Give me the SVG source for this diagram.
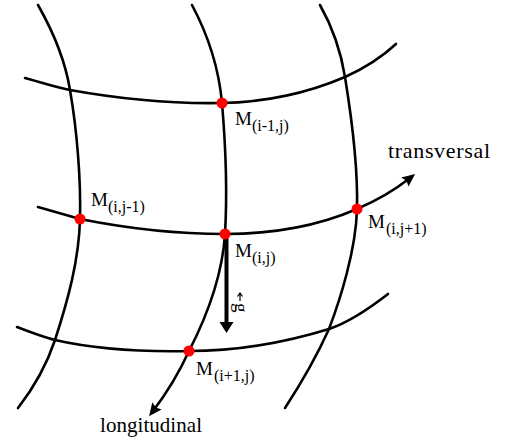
<svg xmlns="http://www.w3.org/2000/svg" width="506" height="445" viewBox="0 0 506 445">
<defs>
<style>
.ln{fill:none;stroke:#000;stroke-width:2.6;stroke-linecap:round}
.dot{fill:#ff0000}
.t{font-family:"Liberation Serif","Times New Roman",serif;fill:#000}
.m{font-size:19px}
.s{font-size:16px}
</style>
<marker id="ah" viewBox="0 0 10 10" refX="5" refY="5" markerWidth="5" markerHeight="5" orient="auto" markerUnits="strokeWidth">
<path d="M0,0.5 L10,5 L0,9.5 L1.5,5 Z" fill="#000"/>
</marker>
</defs>
<rect width="506" height="445" fill="#fff"/>
<g id="connectors">
<path class="ln" d="M25,78 C40,82 55,87 70,90 C120,99 170,104 222,103 C270,102 310,92 345,77 C365,68 382,57 396,44"/>
<path class="ln" d="M38,207 C52,211 66,215 80,219 C130,229 180,234 225,234 C275,234 320,225 357,209 C378,200 396,189 410,178" marker-end="url(#ah)"/>
<path class="ln" d="M17,327 C30,332 43,337 55,340 C90,348 140,352 189,351 C240,351 290,341 329,329 C350,322 370,308 388,294"/>
<path class="ln" d="M38,5 C55,35 66,65 70,90 C77,130 81,180 80,219 C79,260 68,300 55,340 C45,370 32,390 18,408"/>
<path class="ln" d="M192,5 C208,35 219,70 222,103 C226,150 227,200 225,234 C222,280 205,320 189,351 C178,375 166,394 153,411" marker-end="url(#ah)"/>
<path class="ln" d="M320,5 C333,28 341,52 345,77 C352,120 358,170 357,209 C356,250 340,300 329,329 C315,360 300,385 285,408"/>
<line x1="226.5" y1="236" x2="226.5" y2="324" stroke="#000" stroke-width="4"/>
<path d="M219.5,322 L233.5,322 L226.5,333 Z" fill="#000"/>
</g>
<g id="n-im1j"><circle class="dot" cx="222" cy="103" r="5.5"/><text class="t m" x="235" y="125">M</text><text class="t s" x="252" y="131">(i-1,j)</text></g>
<g id="n-ijm1"><circle class="dot" cx="80" cy="219" r="5.5"/><text class="t m" x="91" y="206">M</text><text class="t s" x="108" y="212">(i,j-1)</text></g>
<g id="n-ij"><circle class="dot" cx="225" cy="234" r="5.5"/><text class="t m" x="235" y="257">M</text><text class="t s" x="252" y="263">(i,j)</text></g>
<g id="n-ijp1"><circle class="dot" cx="357" cy="209" r="5.5"/><text class="t m" x="368" y="228">M</text><text class="t s" x="386" y="234">(i,j+1)</text></g>
<g id="n-ip1j"><circle class="dot" cx="189" cy="351" r="5.5"/><text class="t m" x="196" y="375">M</text><text class="t s" x="214" y="381">(i+1,j)</text></g>
<g id="l-trans"><text class="t" x="388" y="158" font-size="22" textLength="102">transversal</text></g>
<g id="l-long"><text class="t" x="100" y="432" font-size="21" textLength="102">longitudinal</text></g>
<g id="l-g">
<text class="t" transform="translate(235,303) rotate(90)" x="0" y="0" font-size="19">g</text>
<path d="M240,301 L240,294 M237.5,296.5 L240,293 L242.5,296.5" fill="none" stroke="#000" stroke-width="1.2"/>
</g>
</svg>
